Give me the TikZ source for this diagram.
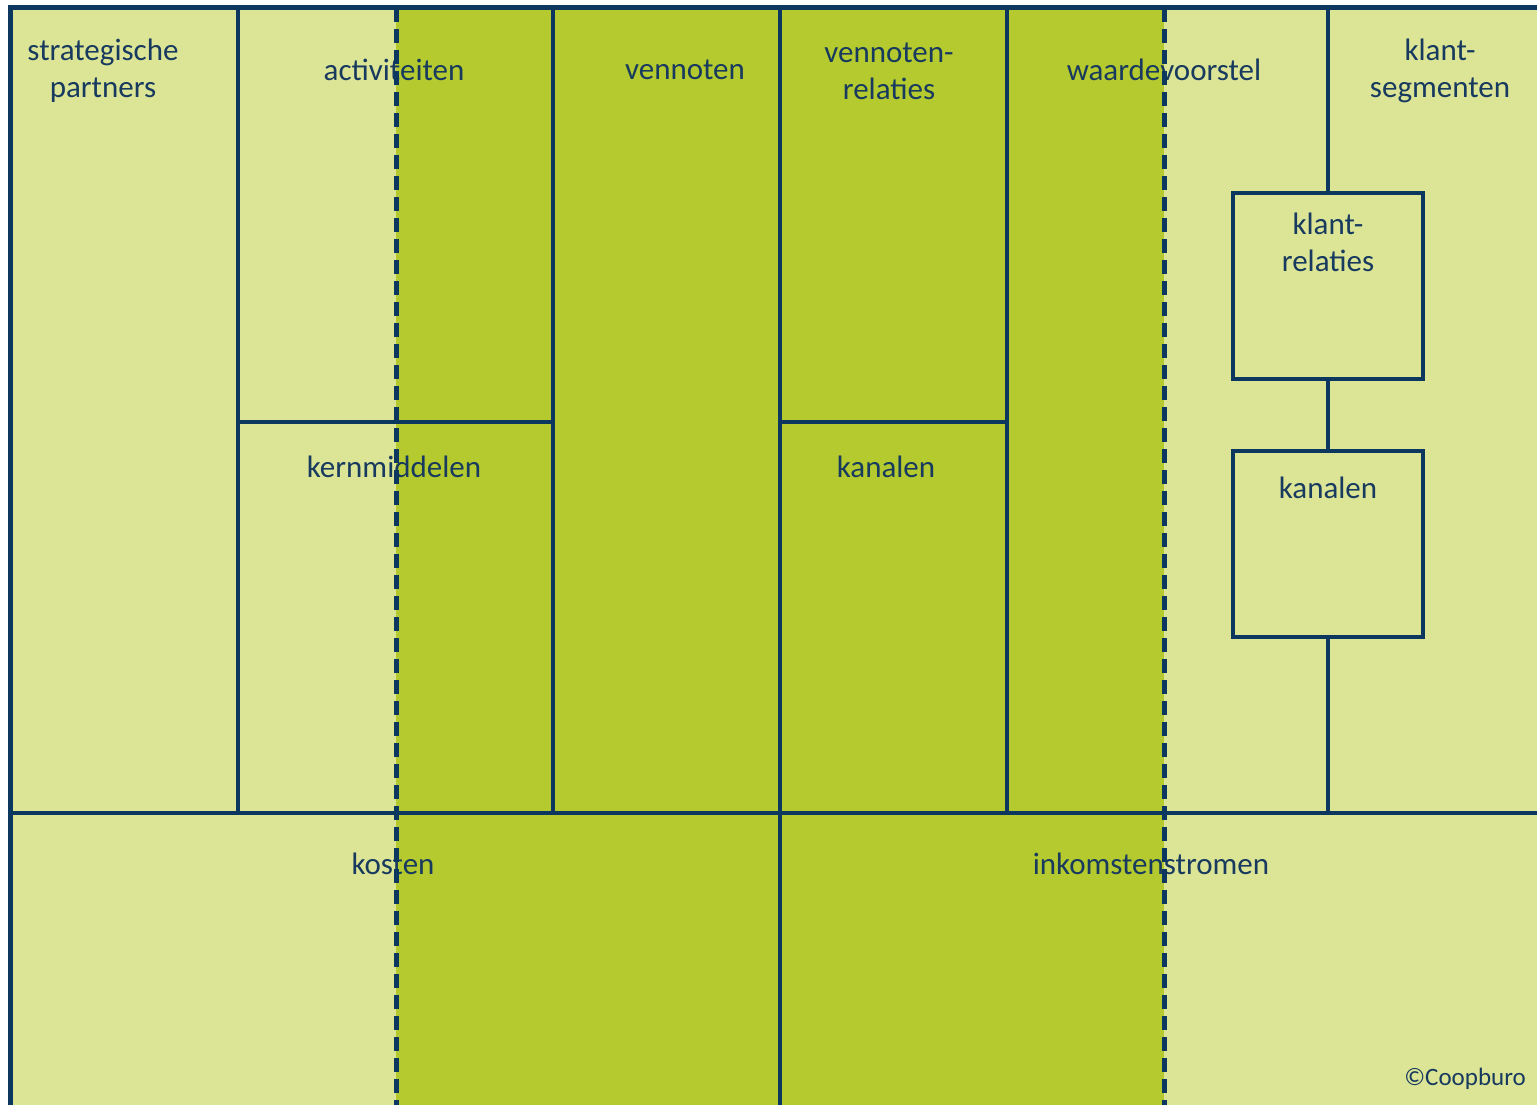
\documentclass[tikz,border=0pt]{standalone}
\usepackage{fontspec}
\setmainfont{Carlito}
\usetikzlibrary{positioning}

\definecolor{canvaslight}{HTML}{DCE496}
\definecolor{canvasdark}{HTML}{B5CA2E}
\definecolor{canvasline}{HTML}{0C3860}
\definecolor{canvastext}{HTML}{173A5E}

\begin{document}
\begin{tikzpicture}
  [
    x=1pt, y=-1pt,
    light/.style={
      fill=canvaslight
    },
    dark/.style={
      fill=canvasdark
    },
    border/.style={
      draw=canvasline, line width=5pt
    },
    grid/.style={
      draw=canvasline, line width=4pt
    },
    split/.style={
      draw=canvasline, line width=5pt, dash pattern=on 14pt off 7pt
    },
    lbl/.style={
      text=canvastext, align=center, font=\fontsize{31}{37}\selectfont,
      inner sep=0pt
    },
    klantbox/.style={
      draw=canvasline, line width=4pt, fill=canvaslight,
      minimum width=190pt, minimum height=186pt, inner sep=0pt
    },
    copy/.style={
      text=canvastext, font=\fontsize{25}{30}\selectfont, inner sep=0pt
    }
  ]
\useasboundingbox (0,0) rectangle (1537,1105);

% Background
\fill [light] (10,8) rectangle (1537,1105);
\fill [dark]  (396,8) rectangle (1164,1105);

% Grid
\draw [grid] (10,813) -- (1537,813);
\draw [grid] (238,8) -- (238,813);
\draw [grid] (553,8) -- (553,813);
\draw [grid] (780,8) -- (780,1105);
\draw [grid] (1007,8) -- (1007,813);
\draw [grid] (238,422) -- (553,422);
\draw [grid] (780,422) -- (1007,422);
\draw [border] (7.5,8) -- (1537,8);
\draw [border] (10,8) -- (10,1105);

% Klant side
\node (relbox) [klantbox] at (1328,286) {};
\node (kanbox) [klantbox] at (1328,544) {};
\coordinate (segtop) at (1328,8);
\coordinate (segbot) at (1328,813);
\draw [grid] (segtop) -- (relbox.north);
\draw [grid] (relbox.south) -- (kanbox.north);
\draw [grid] (kanbox.south) -- (segbot);
\node (relaties) [lbl, anchor=north] at (1328,213) {klant-\\relaties};
\node (kanalen2) [lbl, anchor=north] at (1328,477) {kanalen};

% Labels
\node (partners)   [lbl] at (103,71)  {strategische\\partners};
\node (activiteit) [lbl] at (394,70)  {activiteiten};
\node (vennoten)   [lbl] at (685,70)  {vennoten};
\node (relaties1)  [lbl] at (889,71)  {vennoten-\\relaties};
\node (waarde)     [lbl] at (1164,70) {waardevoorstel};
\node (segmenten)  [lbl] at (1440,71) {klant-\\segmenten};
\node (middelen)   [lbl] at (394,467) {kernmiddelen};
\node (kanalen1)   [lbl] at (886,467) {kanalen};
\node (kosten)     [lbl] at (393,864) {kosten};
\node (inkomsten)  [lbl] at (1151,864) {inkomstenstromen};
\node (coop) [copy, anchor=east] at (1526,1079) {©Coopburo};

% Dashed split
\draw [split] (396,8) -- (396,1105);
\draw [split] (1164,8) -- (1164,1105);

\end{tikzpicture}
\end{document}
